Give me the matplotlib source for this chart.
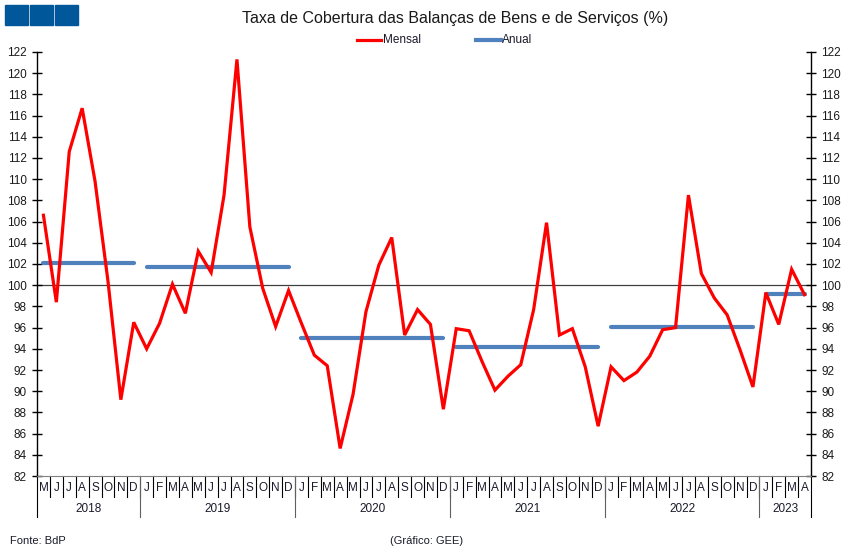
import matplotlib
matplotlib.use("Agg")
import matplotlib.pyplot as plt
import numpy as np

plt.rcParams['font.family'] = ['Liberation Sans', 'DejaVu Sans']

month_letters = ["M", "J", "J", "A", "S", "O", "N", "D"] + \
    ["J", "F", "M", "A", "M", "J", "J", "A", "S", "O", "N", "D"] * 4 + \
    ["J", "F", "M", "A"]
years = ["2018", "2019", "2020", "2021", "2022", "2023"]
months_per_year = [8, 12, 12, 12, 12, 4]

mensal = [
    106.6, 98.4, 112.6, 116.7, 109.8, 100.4, 89.2, 96.5,
    94.0, 96.4, 100.1, 97.35, 103.2, 101.2, 108.5, 121.3, 105.5, 99.7, 96.1, 99.5,
    96.4, 93.4, 92.4, 84.6, 89.7, 97.5, 101.9, 104.5, 95.3, 97.7, 96.3, 88.3,
    95.9, 95.7, 92.8, 90.1, 91.4, 92.5, 97.7, 105.9, 95.3, 95.9, 92.3, 86.7,
    92.3, 91.0, 91.8, 93.3, 95.8, 96.0, 108.5, 101.1, 98.8, 97.2, 93.9, 90.4,
    99.3, 96.3, 101.5, 99.1,
]
anual = [102.1, 101.75, 95.05, 94.2, 96.05, 99.2]

fig = plt.figure(figsize=(8.5, 5.59), dpi=100)
ax = fig.add_axes([37/850, 1-476/559, (811-37)/850, (476-52)/559])

x = np.arange(len(mensal))
ax.axhline(100, color="#404040", lw=0.9, zorder=1)

# annual segments
start = 0
for yv, n in zip(anual, months_per_year):
    ax.plot([start, start + n - 1], [yv, yv], color="#4F81BD", lw=3.0,
            solid_capstyle="round", zorder=2)
    start += n

ax.plot(x, mensal, color="#FF0000", lw=2.3, zorder=3, solid_joinstyle="miter")

ax.set_xlim(-0.5, len(mensal) - 0.5)
ax.set_ylim(82, 122)
ax.set_yticks(np.arange(82, 123, 2))
ax.tick_params(axis="y", direction="inout", length=7, width=1, labelsize=8.5,
               left=True, right=True, labelleft=True, labelright=True, pad=4,
               labelcolor="#1a1a1a")
ax.set_xticks([])
ax.spines["top"].set_visible(False)
ax.spines["bottom"].set_color("#808080")
for s in ["left", "right"]:
    ax.spines[s].set_color("black")
    ax.spines[s].set_linewidth(1)

trans = ax.get_xaxis_transform()
row1 = -21 / 424
row2 = -41 / 424
# month separators & labels
for i, m in enumerate(month_letters):
    ax.text(i, -12 / 424, m, transform=trans, ha="center", va="center", fontsize=8.5,
            color="#1a1a2a")
    if i > 0:
        ax.plot([i - 0.5, i - 0.5], [0, row1], transform=trans, color="black",
                lw=0.8, clip_on=False)
# year separators & labels
start = 0
bounds = [-0.5]
for yr, n in zip(years, months_per_year):
    ax.text(start - 0.5 + n / 2, -33 / 424, yr, transform=trans, ha="center",
            va="center", fontsize=8.5, color="#1a1a2a")
    start += n
    bounds.append(start - 0.5)
for k, b in enumerate(bounds):
    col = "black" if k in (0, len(bounds) - 1) else "#606060"
    ax.plot([b, b], [0, row2], transform=trans, color=col, lw=0.8, clip_on=False)

# title & legend
fig.text(455/850, 1-18/559, "Taxa de Cobertura das Balanças de Bens e de Serviços (%)",
         ha="center", va="center", fontsize=11.5, color="#1a1a1a")
fig.add_artist(plt.Line2D([357/850, 381/850], [1-40/559, 1-40/559], color="#FF0000", lw=2.3))
fig.text(383/850, 1-40/559, "Mensal", ha="left", va="center", fontsize=8.5, color="#1a1a2a")
fig.add_artist(plt.Line2D([476/850, 501/850], [1-40/559, 1-40/559], color="#4F81BD", lw=3.0))
fig.text(502/850, 1-40/559, "Anual", ha="left", va="center", fontsize=8.5, color="#1a1a2a")

# blue squares
for x0 in [5, 30, 55]:
    fig.add_artist(plt.Rectangle((x0/850, 1-25/559), 23/850, 20/559, color="#00589A",
                                 transform=fig.transFigure))

fig.text(10/850, 1-541/559, "Fonte: BdP", ha="left", va="center", fontsize=8, color="#1a1a2a")
fig.text(427/850, 1-541/559, "(Gráfico: GEE)", ha="center", va="center", fontsize=8,
         color="#1a1a2a")

fig.savefig("out.png", dpi=100)
